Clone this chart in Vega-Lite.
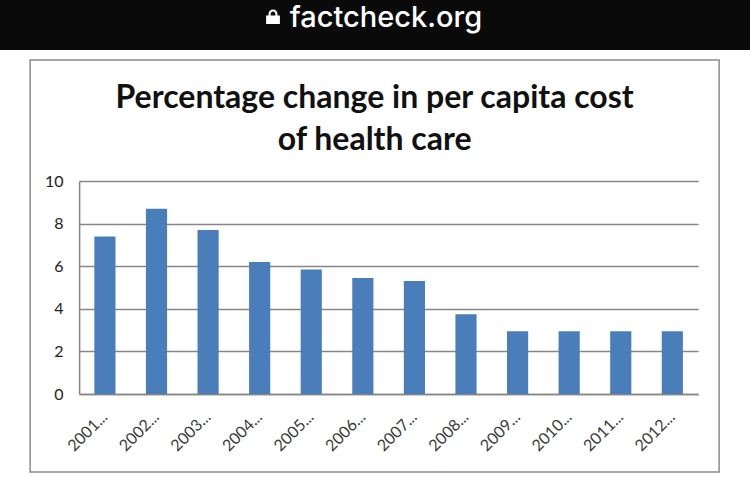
{
"$schema":"https://vega.github.io/schema/vega-lite/v6.json",
"padding":0,
"background":"#ffffff",
"spacing":9,
"center":true,
"datasets":{
"header":[{"pos":375,"name":"factcheck.org","lock":273}],
"cost":[
{"year":"2001...","change":7.4},{"year":"2002...","change":8.7},{"year":"2003...","change":7.7},{"year":"2004...","change":6.2},{"year":"2005...","change":5.85},{"year":"2006...","change":5.45},{"year":"2007...","change":5.3},{"year":"2008...","change":3.75},{"year":"2009...","change":2.95},{"year":"2010...","change":2.95},{"year":"2011...","change":2.95},{"year":"2012...","change":2.95}]
},
"vconcat":[
{"width":750,"height":50,"view":{"fill":"#0a0a0a","stroke":null},
"data":{"name":"header"},
"layer":[
{"mark":{"type":"text","font":"Inter","fontSize":29,"fontWeight":500,"color":"#ffffff","dx":11,"dy":-7},
"encoding":{"x":{"field":"pos","type":"quantitative","scale":{"domain":[0,750]},"axis":null},"text":{"field":"name"}}},
{"mark":{"type":"point","filled":true,"opacity":1,"color":"#ffffff","size":190,"dy":-8,"shape":"M-1,-0.2H1V1H-1Z M-0.65,-0.2V-0.45A0.65,0.65 0 0 1 0.65,-0.45V-0.2H0.35V-0.45A0.35,0.35 0 0 0 -0.35,-0.45V-0.2Z"},
"encoding":{"x":{"field":"lock","type":"quantitative","scale":{"domain":[0,750]},"axis":null},"yOffset":{"value":-8}}}
]},
{"width":689,"height":412,"view":{"fill":"#ffffff","stroke":"#8c8c8c","strokeWidth":1.5},
"data":{"name":"cost"},
"title":{"text":["Percentage change in per capita cost","of health care"],"font":"Lato","fontSize":32,"fontWeight":"bold","color":"#111111","lineHeight":42,"anchor":"middle","offset":-97},
"mark":{"type":"bar","color":"#4a7ebb"},
"encoding":{
"x":{"field":"year","type":"nominal","title":null,"sort":null,
"scale":{"range":[49,668],"paddingInner":0.59,"paddingOuter":0.295},
"axis":{"offset":-78,"labelAngle":-45,"labelAlign":"right","labelBaseline":"middle","labelFont":"Lato","labelFontSize":16,"labelColor":"#3a3a3a","labelPadding":20,"ticks":false,"domainColor":"#868686","domainWidth":1.5}},
"y":{"field":"change","type":"quantitative","title":null,
"scale":{"domain":[0,10],"range":[334,121],"nice":false},
"axis":{"offset":-49,"values":[0,2,4,6,8,10],"format":"d","labelFont":"Lato","labelFontSize":16,"labelColor":"#222222","labelPadding":16,"ticks":false,"domainColor":"#868686","domainWidth":1.5,"grid":true,"gridColor":"#868686","gridWidth":1.3}}
}}
]
}
